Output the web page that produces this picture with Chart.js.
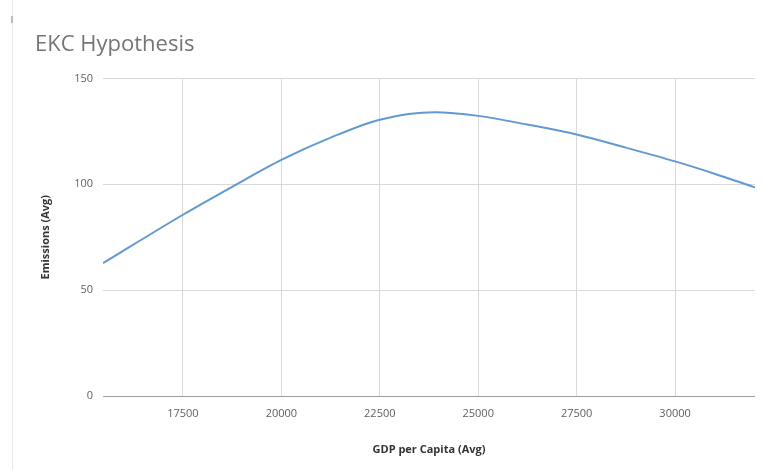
<!DOCTYPE html>
<html>
<head>
<meta charset="utf-8">
<script src="https://cdn.jsdelivr.net/npm/chart.js@4/dist/chart.umd.min.js"></script>
<style>
  html, body { margin: 0; padding: 0; background: #fff; }
  #wrap { position: relative; width: 766px; height: 470px; }
  #edge { position: absolute; left: 12px; top: 0; width: 0; height: 470px; border-left: 1px solid #e8e8e8; }
  #mark { position: absolute; left: 11px; top: 16px; width: 2px; height: 7px; background: #bbb; }
</style>
</head>
<body>
<div id="wrap">
  <div id="edge"></div>
  <div id="mark"></div>
  <canvas id="chart" width="766" height="470"></canvas>
</div>
<script>
// GDP per capita (x) and average emissions (y)
const gdp = [15470, 17500, 18750, 20000, 21250, 22500, 23900, 25000, 26250, 27500, 28750, 30000, 31000, 32030];
const emissions = [62.7, 85.6, 98.8, 111.5, 122.0, 130.5, 134.0, 132.3, 128.2, 123.5, 117.3, 110.8, 105.0, 98.5];
const xTicks = [17500, 20000, 22500, 25000, 27500, 30000];
const yTicks = [0, 50, 100, 150];

const points = gdp.map((x, i) => ({ x: x, y: emissions[i] }));
const font = "'Open Sans', 'Liberation Sans', sans-serif";

new Chart(document.getElementById('chart'), {
  type: 'line',
  data: {
    datasets: [{
      data: points,
      borderColor: '#6199d0',
      borderWidth: 2,
      pointRadius: 0,
      fill: false,
      cubicInterpolationMode: 'monotone'
    }]
  },
  options: {
    responsive: false,
    animation: false,
    layout: { padding: { left: 35, right: 11, top: 0, bottom: 10 } },
    plugins: {
      legend: { display: false },
      tooltip: { enabled: false },
      title: {
        display: true,
        text: 'EKC Hypothesis',
        align: 'start',
        color: '#757575',
        font: { family: font, size: 22, weight: 'normal' },
        padding: { top: 32, bottom: 20 }
      }
    },
    scales: {
      x: {
        type: 'linear',
        min: gdp[0],
        max: gdp[gdp.length - 1],
        afterBuildTicks: s => { s.ticks = xTicks.map(v => ({ value: v })); },
        afterFit: s => { s.height = 64; },
        border: { display: false },
        grid: { color: '#d9d9d9', drawTicks: false },
        ticks: {
          color: '#5f5f5f',
          padding: 11,
          font: { family: font, size: 11 },
          callback: v => String(v)
        },
        title: {
          display: true,
          text: 'GDP per Capita (Avg)',
          color: '#333',
          font: { family: font, size: 11, weight: 'bold' },
          padding: { top: 0, bottom: 4 }
        }
      },
      y: {
        min: 0,
        max: 150,
        afterBuildTicks: s => { s.ticks = yTicks.map(v => ({ value: v })); },
        afterFit: s => { s.width = 68; },
        border: { display: false },
        grid: {
          drawTicks: false,
          color: c => (c.tick && c.tick.value === 0) ? '#9e9e9e' : '#d9d9d9'
        },
        ticks: {
          color: '#5f5f5f',
          padding: 10,
          font: { family: font, size: 11 }
        },
        title: {
          display: true,
          text: 'Emissions (Avg)',
          color: '#333',
          font: { family: font, size: 11, weight: 'bold' },
          padding: { top: 4, bottom: 0 }
        }
      }
    }
  }
});
</script>
</body>
</html>
